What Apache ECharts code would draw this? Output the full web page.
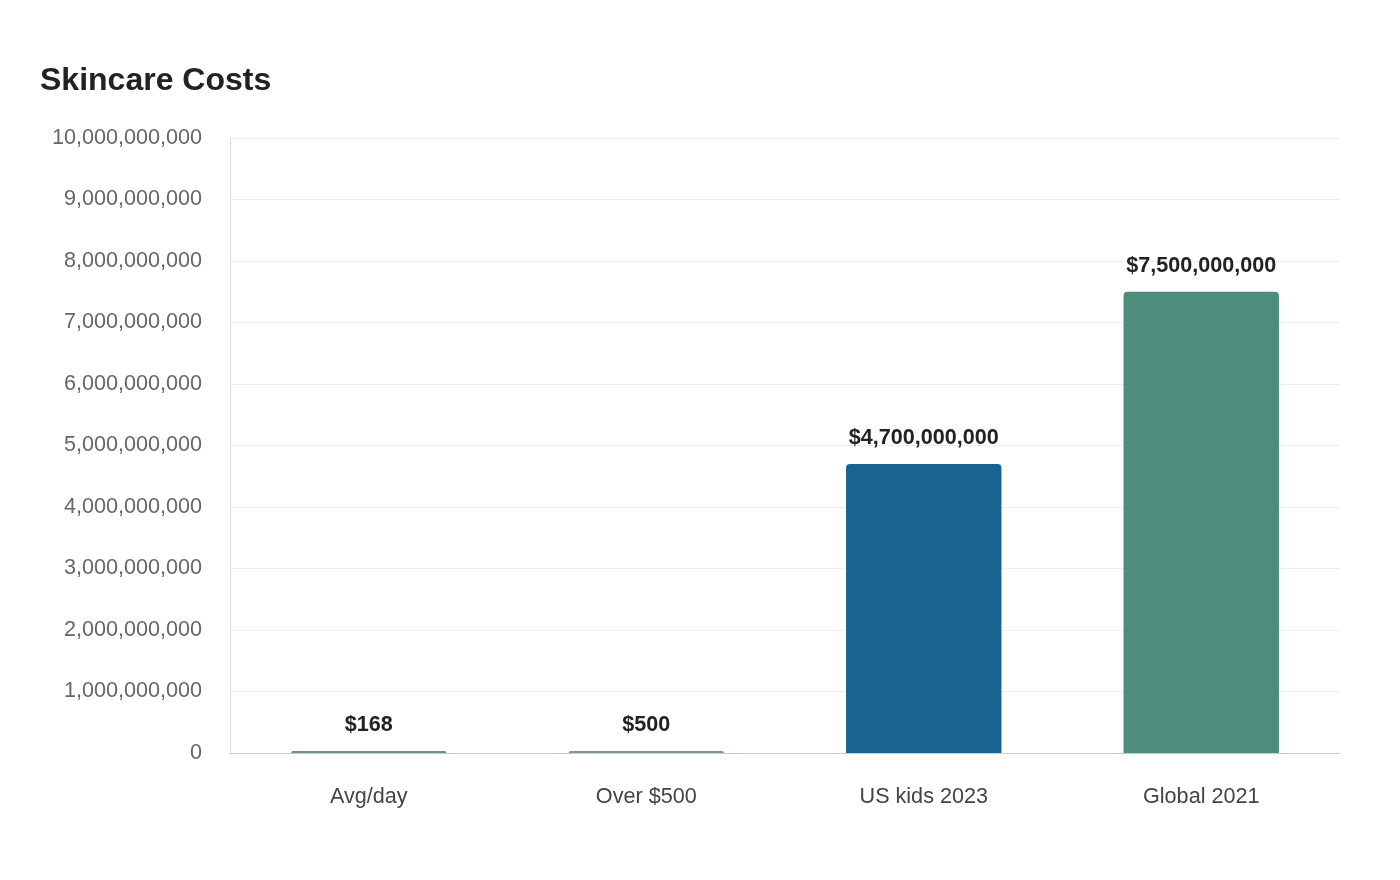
<!DOCTYPE html>
<html>
<head>
<meta charset="utf-8">
<script src="https://cdn.jsdelivr.net/npm/echarts@6/dist/echarts.min.js"></script>
<style>
  html, body { margin: 0; padding: 0; background: #fff; }
  #chart { width: 1400px; height: 880px; }
</style>
</head>
<body>
<div id="chart"></div>
<script>
const categories = ['Avg/day', 'Over $500', 'US kids 2023', 'Global 2021'];
const costs = [168, 500, 4700000000, 7500000000];
const barColors = ['#6f928a', '#7f9994', '#186390', '#4e8d7c'];
const yTicks = { min: 0, max: 10000000000, interval: 1000000000 };

const FONT = "'Liberation Sans', Arial, sans-serif";
const fmt = v => Math.round(v).toLocaleString('en-US');

const chart = echarts.init(document.getElementById('chart'));
chart.setOption({
  backgroundColor: '#fff',
  title: {
    text: 'Skincare Costs',
    left: 35,
    top: 60,
    textStyle: { fontFamily: FONT, fontSize: 32, fontWeight: 'bold', color: '#222' }
  },
  grid: { left: 230, right: 60, top: 138, bottom: 127, containLabel: false },
  xAxis: {
    type: 'category',
    data: categories,
    axisLine: { lineStyle: { color: '#ccc' } },
    axisTick: { show: false },
    axisLabel: { color: '#444', fontSize: 21.6, fontFamily: FONT, margin: 33 }
  },
  yAxis: {
    type: 'value',
    min: yTicks.min,
    max: yTicks.max,
    interval: yTicks.interval,
    axisLine: { show: true, lineStyle: { color: '#ddd' } },
    axisTick: { show: false },
    splitLine: { lineStyle: { color: '#eee' } },
    axisLabel: {
      color: '#666', fontSize: 21.6, fontFamily: FONT, margin: 28,
      padding: [4, 0, 0, 0], formatter: fmt
    }
  },
  series: [{
    type: 'bar',
    data: costs.map((v, i) => ({ value: v, itemStyle: { color: barColors[i] } })),
    barWidth: '56%',
    barMinHeight: 2,
    itemStyle: { borderRadius: [4, 4, 0, 0] },
    label: {
      show: true,
      position: 'top',
      distance: 15,
      color: '#222',
      fontSize: 21.6,
      fontWeight: 'bold',
      fontFamily: FONT,
      formatter: p => '$' + fmt(p.value)
    }
  }]
});
</script>
</body>
</html>
